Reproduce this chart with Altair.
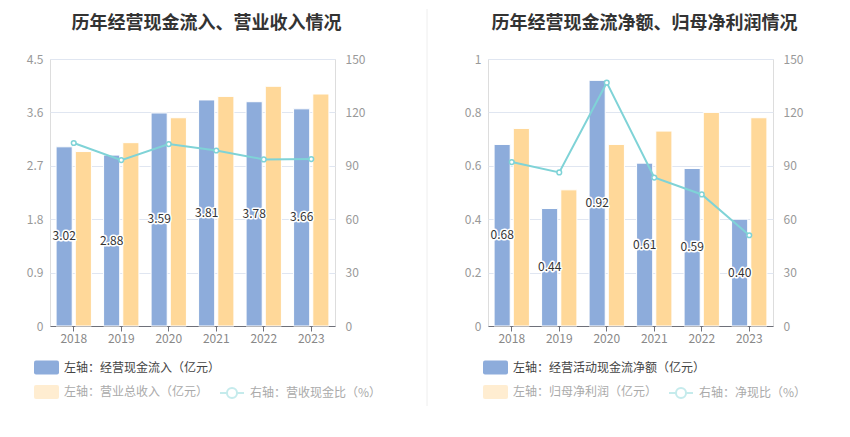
import altair as alt
import pandas as pd

FONT = "Noto Sans CJK SC"
BLUE = "#8DACDB"
ORANGE = "#FFD899"
CYAN = "#7FD3D7"

years = ["2018", "2019", "2020", "2021", "2022", "2023"]
# left panel
inflow = [3.02, 2.88, 3.59, 3.81, 3.78, 3.66]
revenue = [2.94, 3.09, 3.51, 3.87, 4.04, 3.91]
ratio_rev = [102.8, 93.2, 102.2, 98.6, 93.6, 93.8]
# right panel
net_cf = [0.68, 0.44, 0.92, 0.61, 0.59, 0.40]
net_profit = [0.74, 0.51, 0.68, 0.73, 0.80, 0.78]
ratio_np = [92.1, 86.3, 136.7, 83.4, 73.9, 51.0]

left_ticks = [0, 0.9, 1.8, 2.7, 3.6, 4.5]
right_left_ticks = [0, 0.2, 0.4, 0.6, 0.8, 1]
ratio_ticks = [0, 30, 60, 90, 120, 150]

RR = ("M -0.84 -0.56 L 0.84 -0.56 Q 1 -0.56 1 -0.4 L 1 0.4 Q 1 0.56 0.84 0.56 "
      "L -0.84 0.56 Q -1 0.56 -1 0.4 L -1 -0.4 Q -1 -0.56 -0.84 -0.56 Z")
LINE_SYM = ("M -1 0 L -0.42 0 M 0.42 0 L 1 0 M -0.42 0 A 0.42 0.42 0 1 0 0.42 0 "
            "A 0.42 0.42 0 1 0 -0.42 0")


def panel(a, b, r, ka, kb, kc, ymax, yticks, title, lx1, lx3, div_x, div_opacity):
    df = pd.DataFrame({"year": years, "a": a, "b": b, "r": r})
    df["half"] = df["a"] / 2
    df["sa"] = "A"
    df["sb"] = "B"
    df["ka"] = ka
    df["kb"] = kb
    df["kc"] = kc
    base = alt.Chart(df)
    x = alt.X("year:N", title=None,
              scale=alt.Scale(paddingInner=0.24, paddingOuter=0.12),
              axis=alt.Axis(labelAngle=0, labelColor="#888", labelFont=FONT, labelFontSize=12,
                            domainColor="#6E7079", tickColor="#6E7079", tickSize=5,
                            labelPadding=2, grid=False))
    xo = alt.Scale(domain=["A", "B"], paddingInner=0.16, paddingOuter=0.02)
    yscale = alt.Scale(domain=[0, ymax], nice=False, zero=True)
    yaxis = alt.Axis(values=yticks, format="~g", orient="left", domain=False, ticks=False,
                     labelColor="#999", labelFont=FONT, labelFontSize=12, labelPadding=7,
                     gridColor="#E0E6F1", grid=True)
    blue = base.mark_bar(stroke="white", strokeWidth=1).encode(
        x=x, xOffset=alt.XOffset("sa:N", scale=xo),
        y=alt.Y("a:Q", scale=yscale, axis=yaxis, title=None),
        color=alt.Color("ka:N", scale=alt.Scale(range=[BLUE]),
                        legend=alt.Legend(orient="none", legendX=lx1, legendY=296, title=None,
                                          symbolType=RR, symbolSize=625, symbolStrokeWidth=0,
                                          labelFont=FONT, labelFontSize=12, labelColor="#444",
                                          labelOffset=5, labelLimit=400, padding=0)))
    orange = base.mark_bar(stroke="white", strokeWidth=1).encode(
        x=x, xOffset=alt.XOffset("sb:N", scale=xo),
        y=alt.Y("b:Q", scale=yscale, title=None),
        fill=alt.Fill("kb:N", scale=alt.Scale(range=[ORANGE]),
                      legend=alt.Legend(orient="none", legendX=lx1, legendY=320.5, title=None,
                                        symbolType=RR, symbolSize=625, symbolStrokeWidth=0,
                                        symbolOpacity=0.45,
                                        labelFont=FONT, labelFontSize=12, labelColor="#aaa",
                                        labelOffset=5, labelLimit=400, padding=0)))
    halo = base.mark_text(font=FONT, fontSize=12, stroke="white", strokeWidth=3,
                          strokeJoin="round", fill="white").encode(
        x=x, xOffset=alt.XOffset("sa:N", scale=xo),
        y=alt.Y("half:Q", scale=yscale, title=None),
        text=alt.Text("a:Q", format=".2f"))
    label = base.mark_text(font=FONT, fontSize=12, color="#333").encode(
        x=x, xOffset=alt.XOffset("sa:N", scale=xo),
        y=alt.Y("half:Q", scale=yscale, title=None),
        text=alt.Text("a:Q", format=".2f"))
    div = alt.Chart(pd.DataFrame({"d": [0]})).mark_rule(
        color="#EEEEEE", strokeWidth=1, strokeOpacity=div_opacity).encode(
        x=alt.value(div_x), y=alt.value(-50), y2=alt.value(347))
    bars = alt.layer(blue, orange, halo, label, div)

    rscale = alt.Scale(domain=[0, 150], nice=False)
    raxis = alt.Axis(values=ratio_ticks, orient="right", domain=False, ticks=False, grid=False,
                     labelColor="#999", labelFont=FONT, labelFontSize=12, labelPadding=10)
    line = base.mark_line(strokeWidth=2).encode(
        x=x, y=alt.Y("r:Q", scale=rscale, axis=raxis, title=None),
        stroke=alt.Stroke("kc:N", scale=alt.Scale(range=[CYAN]),
                          legend=alt.Legend(orient="none", legendX=lx3, legendY=321, title=None,
                                            symbolType=LINE_SYM, symbolSize=576,
                                            symbolStrokeWidth=2, symbolOpacity=0.45,
                                            symbolFillColor="white",
                                            labelFont=FONT, labelFontSize=12, labelColor="#aaa",
                                            labelOffset=5, labelLimit=400, padding=0)))
    pts = base.mark_point(shape="circle", filled=True, fill="white", stroke=CYAN,
                          strokeWidth=1.5, size=22, opacity=1).encode(
        x=x, y=alt.Y("r:Q", scale=rscale, title=None))
    ratio = alt.layer(line, pts)
    return alt.layer(bars, ratio).resolve_scale(y="independent").properties(
        width=285, height=267,
        title=alt.TitleParams(title, font=FONT, fontSize=18, fontWeight="bold", color="#333",
                              anchor="middle", frame="group", dx=14, offset=-24))


left = panel(inflow, revenue, ratio_rev,
             "左轴：经营现金流入（亿元）", "左轴：营业总收入（亿元）", "右轴：营收现金比（%）",
             4.5, left_ticks, "历年经营现金流入、营业收入情况", -16, 169, 377, 0)
right = panel(net_cf, net_profit, ratio_np,
              "左轴：经营活动现金流净额（亿元）", "左轴：归母净利润（亿元）", "右轴：净现比（%）",
              1, right_left_ticks, "历年经营现金流净额、归母净利润情况", -5, 180, -61, 1)

chart = alt.hconcat(left, right, spacing=153, bounds="flush").resolve_scale(
    color="independent", fill="independent", stroke="independent", x="independent"
).properties(padding={"left": 17, "top": 0, "right": 5, "bottom": 5}).configure_view(
    stroke=None).configure(background="white")

chart.save("out.html", embed_options={"renderer": "svg", "actions": False})
